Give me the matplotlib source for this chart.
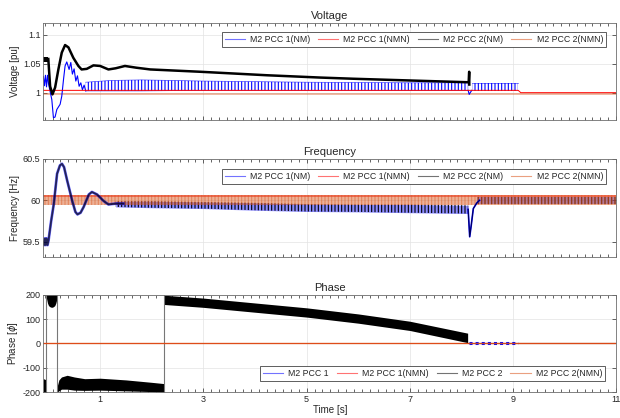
import numpy as np
import matplotlib.pyplot as plt
from matplotlib.lines import Line2D
from matplotlib.ticker import FixedLocator

plt.rcParams['font.family'] = ['Liberation Sans', 'DejaVu Sans']
plt.rcParams['axes.unicode_minus'] = False
plt.rcParams['hatch.linewidth'] = 0.8

BLUE = '#0000ff'
RED = '#ff0000'
BLACK = '#000000'
ORANGE = '#d95319'
TXT = '#262626'

names_v = ['M2 PCC 1(NM)', 'M2 PCC 1(NMN)', 'M2 PCC 2(NM)', 'M2 PCC 2(NMN)']
names_p = ['M2 PCC 1', 'M2 PCC 1(NMN)', 'M2 PCC 2', 'M2 PCC 2(NMN)']

# ---------------- Voltage [pu] ----------------
# M2 PCC 1(NM) - start transient
v1_t = [-0.1, -0.08, -0.06, -0.04, -0.02, 0.0, 0.063, 0.094, 0.126, 0.16, 0.224, 0.256,
        0.29, 0.32, 0.353, 0.398, 0.431, 0.462, 0.495, 0.528, 0.56, 0.592, 0.625, 0.656,
        0.689, 0.72]
v1_v = [1.028, 1.012, 1.03, 1.01, 1.03, 1.015, 0.988, 0.957, 0.958, 0.971, 0.98, 0.994,
        1.023, 1.046, 1.053, 1.040, 1.052, 1.032, 1.041, 1.020, 1.029, 1.011, 1.017, 1.005,
        1.013, 1.003]
# M2 PCC 1(NM) - oscillating part (envelope)
v1_band_t = [0.72, 1.2, 1.8, 3.0, 5.0, 7.0, 8.13]
v1_band_lo = [1.003, 1.003, 1.003, 1.004, 1.004, 1.004, 1.004]
v1_band_hi = [1.018, 1.021, 1.022, 1.020, 1.018, 1.017, 1.017]
v1_dip_t = [8.13, 8.15, 8.17, 8.2]
v1_dip_v = [1.004, 0.997, 1.0, 1.004]
v1_band2_t = [8.2, 9.1]
v1_band2_lo = [1.003, 1.003]
v1_band2_hi = [1.016, 1.016]

# M2 PCC 1(NMN)
v2_t = [-0.1, 9.1, 9.15, 11.0]
v2_v = [1.004, 1.004, 1.0, 1.0]

# M2 PCC 2(NM)
v3_block_t = [-0.1, -0.005]
v3_block_lo = [1.052, 1.052]
v3_block_hi = [1.061, 1.061]
v3_t = [-0.005, 0.03, 0.075, 0.127, 0.19, 0.256, 0.32, 0.385, 0.48, 0.578, 0.64, 0.74,
        0.87, 1.0, 1.16, 1.3, 1.48, 1.7, 1.97, 2.94, 4.23, 5.27, 5.9, 7.0, 8.11, 8.14,
        8.15, 8.152]
v3_v = [1.058, 1.011, 0.997, 1.009, 1.040, 1.069, 1.082, 1.078, 1.060, 1.046, 1.040, 1.041,
        1.047, 1.046, 1.040, 1.042, 1.046, 1.043, 1.040, 1.036, 1.030, 1.026, 1.024, 1.021,
        1.018, 1.018, 1.036, 1.014]

# M2 PCC 2(NMN)
v4_t = [-0.1, 11.0]
v4_lo = [0.996, 0.996]
v4_hi = [0.9995, 0.9995]

# ---------------- Frequency [Hz] ----------------
f1_t = [-0.1, -0.085, -0.07, -0.055, -0.04, -0.02, 0.0, 0.05, 0.1, 0.165, 0.22, 0.26, 0.3,
        0.36, 0.46, 0.52, 0.56, 0.62, 0.68, 0.78, 0.84, 0.94, 1.07, 1.16, 1.3, 1.45]
f1_v = [59.5, 59.46, 59.54, 59.46, 59.54, 59.46, 59.52, 59.75, 59.95, 60.32, 60.42, 60.44,
        60.4, 60.24, 59.99, 59.86, 59.83, 59.85, 59.92, 60.07, 60.10, 60.07, 59.99, 59.95,
        59.96, 59.96]
f1_band_t = [1.3, 2.0, 3.0, 4.0, 5.0, 6.0, 7.0, 8.13]
f1_band_lo = [59.92, 59.91, 59.90, 59.88, 59.865, 59.86, 59.85, 59.84]
f1_band_hi = [59.99, 59.99, 59.98, 59.97, 59.955, 59.95, 59.95, 59.94]
f1_spike_t = [8.13, 8.16, 8.19, 8.23, 8.3, 8.35]
f1_spike_v = [59.89, 59.56, 59.7, 59.9, 59.97, 60.0]
f1_band2_t = [8.3, 11.0]
f1_band2_lo = [59.95, 59.95]
f1_band2_hi = [60.045, 60.045]

# PCC 2(NM) frequency lies on top of PCC 1(NM) in the picture
f3_t, f3_v = f1_t, f1_v
f3_band_t, f3_band_lo, f3_band_hi = f1_band_t, f1_band_lo, f1_band_hi
f3_band2_t, f3_band2_lo, f3_band2_hi = f1_band2_t, f1_band2_lo, f1_band2_hi

f2_t = [-0.1, 11.0]
f2_lo = [60.035, 60.035]
f2_hi = [60.065, 60.065]

f4_t = [-0.1, 11.0]
f4_lo = [59.945, 59.945]
f4_hi = [60.06, 60.06]

# ---------------- Phase ----------------
# M2 PCC 2 : wrapped phase bands (dense oscillation)
p3_a_t = [-0.1, -0.04]
p3_a_lo = [-200, -200]
p3_a_hi = [-145, -150]
p3_b_t = [-0.04, -0.02, 0.0, 0.03, 0.06, 0.09, 0.12, 0.14, 0.165]
p3_b_lo = [185, 165, 155, 150, 148, 150, 155, 165, 185]
p3_b_hi = [200, 200, 200, 200, 200, 200, 200, 200, 200]
p3_c_t = [0.165, 0.2, 0.25, 0.36, 0.5, 0.7, 1.0, 1.5, 2.0, 2.23]
p3_c_lo = [-200, -195, -188, -188, -192, -193, -192, -195, -198, -200]
p3_c_hi = [-178, -150, -138, -131, -138, -145, -143, -150, -160, -165]
p3_d_t = [2.23, 3.0, 4.0, 5.0, 6.0, 7.0, 8.12]
p3_d_lo = [160, 148, 128, 108, 83, 53, 3]
p3_d_hi = [198, 186, 166, 146, 121, 91, 42]
p3_wrap_t = [-0.04, 0.165, 2.23]
p3_tail_t = [8.12, 11.0]
p3_tail_v = [0, 0]

p1_t = [8.15, 9.1]
p1_v = [0, 0]
p2_t = [-0.1, 11.0]
p2_v = [0, 0]
p4_t = [-0.1, 11.0]
p4_v = [0, 0]

xticks = [1, 3, 5, 7, 9, 11]

fig = plt.figure(figsize=(6.2, 4.18), dpi=100)
L, W = 0.07, 0.924
ax1 = fig.add_axes([L, 0.713, W, 0.232])
ax2 = fig.add_axes([L, 0.386, W, 0.234])
ax3 = fig.add_axes([L, 0.062, W, 0.233])


def style(ax, ylim, yticks):
    ax.set_xlim(-0.1, 11)
    ax.set_ylim(*ylim)
    ax.set_xticks(xticks)
    ax.set_yticks(yticks)
    step = 2 / 13
    ax.xaxis.set_minor_locator(FixedLocator(np.arange(1 - 7 * step, 11, step)))
    ax.tick_params(which='both', direction='in', top=True, right=True,
                   colors=TXT, labelsize=6.5, width=0.5, pad=2)
    ax.tick_params(which='major', length=3)
    ax.tick_params(which='minor', length=2)
    ax.grid(True, which='major', color='#e3e3e3', lw=0.5)
    ax.set_axisbelow(True)
    for s in ax.spines.values():
        s.set_color('#6e6e6e')
        s.set_linewidth(0.6)


def legend(ax, labels, loc, anchor):
    colors = [BLUE, RED, BLACK, ORANGE]
    handles = [Line2D([], [], color=c, lw=0.8, alpha=0.55) for c in colors]
    lg = ax.legend(handles, labels, loc=loc, bbox_to_anchor=anchor, ncol=4,
                   fontsize=6.3, frameon=True, fancybox=False, framealpha=1,
                   edgecolor='#444444', borderaxespad=0, handlelength=2.3,
                   handletextpad=0.6, columnspacing=0.9, borderpad=0.35)
    lg.get_frame().set_linewidth(0.6)
    for t in lg.get_texts():
        t.set_color(TXT)


# Voltage
ax1.plot(v1_t, v1_v, color=BLUE, lw=0.8)
ax1.fill_between(v1_band_t, v1_band_lo, v1_band_hi, facecolor='none', edgecolor=BLUE,
                 hatch='|||||', lw=0)
ax1.plot(v1_band_t, v1_band_hi, color=BLUE, lw=0.5, alpha=0.7)
ax1.plot(v1_band_t, v1_band_lo, color=BLUE, lw=0.5, alpha=0.7)
ax1.plot(v1_dip_t, v1_dip_v, color=BLUE, lw=0.8)
ax1.fill_between(v1_band2_t, v1_band2_lo, v1_band2_hi, facecolor='none', edgecolor=BLUE,
                 hatch='|||||', lw=0)
ax1.plot(v1_band2_t, v1_band2_hi, color=BLUE, lw=0.5, alpha=0.7)
ax1.plot(v2_t, v2_v, color=RED, lw=0.7)
ax1.fill_between(v3_block_t, v3_block_lo, v3_block_hi, color=BLACK, lw=0)
ax1.plot(v3_t, v3_v, color=BLACK, lw=1.8)
ax1.fill_between(v4_t, v4_lo, v4_hi, color=ORANGE, alpha=0.4, lw=0)
style(ax1, (0.953, 1.12), [1, 1.05, 1.1])
ax1.set_yticklabels(['1', '1.05', '1.1'])
ax1.tick_params(labelbottom=False)
ax1.set_title('Voltage', fontsize=8, color=TXT, pad=3)
ax1.set_ylabel('Voltage [pu]', fontsize=7, color=TXT, labelpad=2)
legend(ax1, names_v, 'upper right', (0.9825, 0.907))

# Frequency
ax2.plot(f1_t, f1_v, color=BLUE, lw=2.0, alpha=0.6)
ax2.fill_between(f1_band_t, f1_band_lo, f1_band_hi, color=BLUE, alpha=0.45, lw=0)
ax2.plot(f1_spike_t, f1_spike_v, color=BLUE, lw=1.2)
ax2.fill_between(f1_band2_t, f1_band2_lo, f1_band2_hi, color=BLUE, alpha=0.4, lw=0)
ax2.fill_between(f2_t, f2_lo, f2_hi, color=RED, alpha=0.5, lw=0)
ax2.plot(f3_t, f3_v, color=BLACK, lw=1.3, alpha=0.65)
ax2.fill_between(f3_band_t, f3_band_lo, f3_band_hi, facecolor='none', edgecolor=BLACK,
                 hatch='|||||', lw=0)
ax2.plot(f1_spike_t, f1_spike_v, color=BLACK, lw=0.7, alpha=0.7)
ax2.fill_between(f3_band2_t, f3_band2_lo, f3_band2_hi, facecolor='none', edgecolor=BLACK,
                 hatch='|||||', lw=0)
ax2.fill_between(f4_t, f4_lo, f4_hi, facecolor=ORANGE, alpha=0.45, edgecolor=ORANGE,
                 hatch='|||||', lw=0)
style(ax2, (59.32, 60.5), [59.5, 60, 60.5])
ax2.set_yticklabels(['59.5', '60', '60.5'])
ax2.tick_params(labelbottom=False)
ax2.set_title('Frequency', fontsize=8, color=TXT, pad=3)
ax2.set_ylabel('Frequency [Hz]', fontsize=7, color=TXT, labelpad=2)
legend(ax2, names_v, 'upper right', (0.9825, 0.897))

# Phase
for wt in p3_wrap_t:
    ax3.plot([wt, wt], [-200, 200], color='#777777', lw=0.8)
ax3.fill_between(p3_a_t, p3_a_lo, p3_a_hi, color=BLACK, lw=0)
ax3.fill_between(p3_b_t, p3_b_lo, p3_b_hi, color=BLACK, lw=0)
ax3.fill_between(p3_c_t, p3_c_lo, p3_c_hi, color=BLACK, lw=0)
ax3.fill_between(p3_d_t, p3_d_lo, p3_d_hi, color=BLACK, lw=0)
ax3.plot(p3_tail_t, p3_tail_v, color='#555555', lw=0.8)
ax3.plot(p2_t, p2_v, color=RED, lw=0.6)
ax3.plot(p1_t, p1_v, color=BLUE, lw=2.2, ls=(0, (1, 1)))
ax3.plot(p4_t, p4_v, color=ORANGE, lw=1.0, alpha=0.85)
style(ax3, (-200, 200), [-200, -100, 0, 100, 200])
ax3.set_title('Phase', fontsize=8, color=TXT, pad=3)
ax3.set_ylabel('Phase [$\\phi$]', fontsize=7, color=TXT, labelpad=2)
ax3.set_xlabel('Time [s]', fontsize=7, color=TXT, labelpad=1)
legend(ax3, names_p, 'lower right', (0.981, 0.117))

fig.savefig('out.png', dpi=100)
